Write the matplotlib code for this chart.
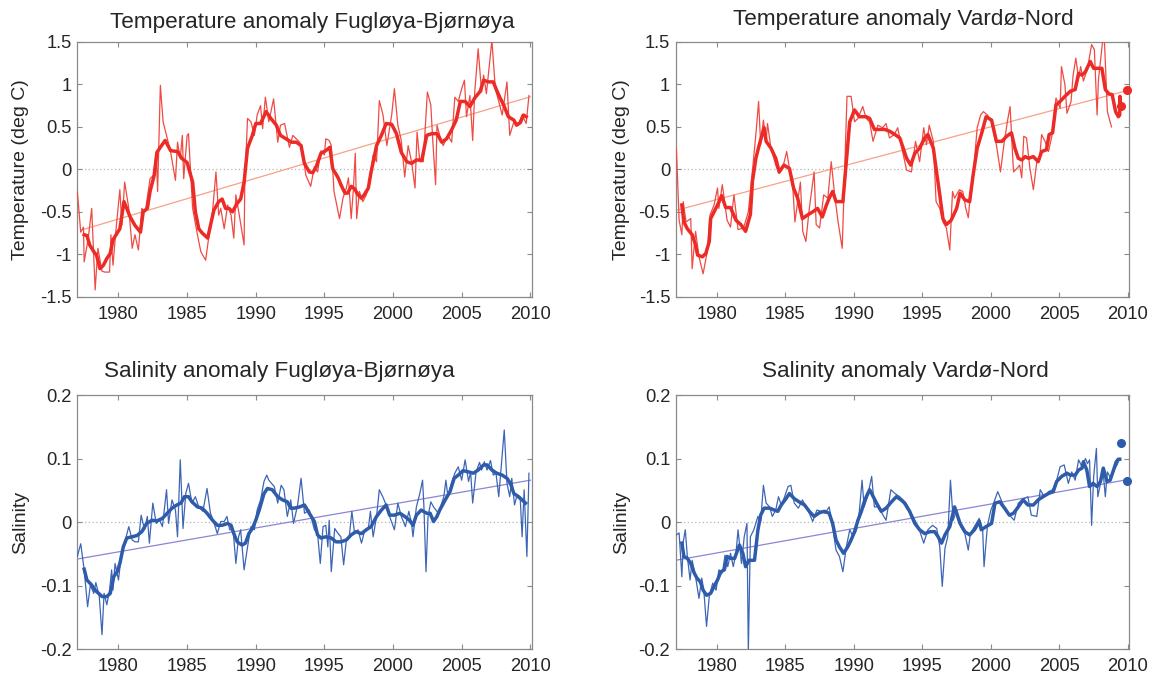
import matplotlib
matplotlib.use("Agg")
import matplotlib.pyplot as plt
import numpy as np

plt.rcParams['font.family'] = ['Liberation Sans', 'DejaVu Sans']

# ---------------- data ----------------
# Temperature anomaly Fugløya-Bjørnøya
t_fb_sm_x = [1977.5, 1977.7, 1977.9, 1978.2, 1978.4, 1978.65, 1978.9, 1979.15, 1979.4, 1979.6,
             1979.9, 1980.1, 1980.4, 1980.6, 1980.85, 1981.2, 1981.6, 1981.8, 1982.1, 1982.3,
             1982.6, 1982.8, 1983.05, 1983.4, 1983.8, 1984.3, 1984.6, 1985.0, 1985.4, 1985.6,
             1985.85, 1986.1, 1986.5, 1986.7, 1986.95, 1987.3, 1987.55, 1987.8, 1988.05, 1988.3,
             1988.65, 1988.9, 1989.15, 1989.4, 1989.75, 1990.0, 1990.35, 1990.75, 1991.1, 1991.5,
             1991.8, 1992.2, 1992.6, 1992.95, 1993.3, 1993.54, 1993.9, 1994.15, 1994.4, 1994.75,
             1995.1, 1995.4, 1995.6, 1996.0, 1996.2, 1996.5, 1996.7, 1996.95, 1997.2, 1997.45,
             1997.7, 1997.9, 1998.2, 1998.4, 1998.8, 1999.15, 1999.5, 1999.9, 2000.25, 2000.6,
             2001.0, 2001.35, 2001.7, 2002.1, 2002.45, 2002.8, 2003.2, 2003.55, 2003.9, 2004.25,
             2004.6, 2004.9, 2005.25, 2005.6, 2005.95, 2006.35, 2006.6, 2006.95, 2007.3, 2007.55,
             2007.8, 2008.05, 2008.4, 2008.8, 2009.0, 2009.27, 2009.5, 2009.7]
t_fb_sm_y = [-0.77, -0.78, -0.89, -0.97, -1.01, -1.17, -1.13, -1.05, -0.99, -0.83,
             -0.75, -0.70, -0.38, -0.46, -0.56, -0.66, -0.74, -0.50, -0.46, -0.26,
             -0.07, 0.20, 0.26, 0.34, 0.22, 0.21, 0.13, 0.08, -0.15, -0.50,
             -0.70, -0.75, -0.81, -0.66, -0.48, -0.38, -0.35, -0.46, -0.46, -0.50,
             -0.40, -0.35, -0.15, 0.25, 0.40, 0.54, 0.54, 0.68, 0.60, 0.52,
             0.40, 0.36, 0.32, 0.32, 0.28, 0.07, -0.03, -0.04, 0.03, 0.19,
             0.22, 0.26, 0.01, -0.10, -0.18, -0.28, -0.28, -0.20, -0.23, -0.30,
             -0.34, -0.30, -0.22, -0.03, 0.28, 0.40, 0.54, 0.53, 0.42, 0.20,
             0.09, 0.07, 0.11, 0.11, 0.40, 0.42, 0.42, 0.32, 0.36, 0.46,
             0.58, 0.80, 0.80, 0.74, 0.84, 0.92, 1.05, 1.03, 1.03, 0.93,
             0.84, 0.76, 0.62, 0.58, 0.52, 0.55, 0.64, 0.62]
t_fb_raw_x = [1977.0, 1977.25, 1977.45, 1977.5, 1977.8, 1978.05, 1978.3, 1978.5, 1978.8, 1979.0,
              1979.35, 1979.45, 1979.6, 1979.8, 1980.1, 1980.25, 1980.45, 1980.75, 1981.0, 1981.2,
              1981.45, 1981.7, 1981.95, 1982.3, 1982.55, 1982.75, 1982.85, 1983.05, 1983.25, 1983.5,
              1983.8, 1984.15, 1984.3, 1984.5, 1984.65, 1984.75, 1985.0, 1985.1, 1985.4, 1985.75,
              1986.0, 1986.35, 1986.6, 1986.85, 1987.1, 1987.3, 1987.45, 1987.7, 1987.95, 1988.2,
              1988.4, 1988.55, 1988.8, 1989.15, 1989.2, 1989.4, 1989.65, 1989.9, 1990.1, 1990.35,
              1990.5, 1990.7, 1990.95, 1991.3, 1991.6, 1991.8, 1992.1, 1992.45, 1992.7, 1992.95,
              1993.2, 1993.4, 1993.65, 1994.0, 1994.27, 1994.5, 1994.75, 1995.0, 1995.1, 1995.35,
              1995.5, 1995.7, 1996.1, 1996.35, 1996.6, 1996.75, 1996.95, 1997.1, 1997.25, 1997.35,
              1997.55, 1997.8, 1998.05, 1998.3, 1998.55, 1998.8, 1999.0, 1999.27, 1999.55, 1999.9,
              2000.1, 2000.35, 2000.6, 2000.85, 2001.1, 2001.35, 2001.6, 2001.75, 2001.95, 2002.2,
              2002.5, 2002.75, 2002.9, 2003.1, 2003.2, 2003.4, 2003.65, 2004.0, 2004.27, 2004.5,
              2004.75, 2005.0, 2005.2, 2005.35, 2005.6, 2005.8, 2005.95, 2006.2, 2006.45, 2006.6,
              2006.8, 2007.2, 2007.45, 2007.7, 2007.95, 2008.3, 2008.5, 2008.8, 2009.15, 2009.4,
              2009.7, 2009.9]
t_fb_raw_y = [-0.26, -0.74, -0.68, -1.09, -0.81, -0.46, -1.42, -0.93, -1.20, -1.21,
              -1.21, -0.77, -1.13, -0.74, -0.24, -0.66, -0.15, -0.46, -0.93, -0.77,
              -0.95, -0.46, -0.50, -0.11, -0.07, 0.20, -0.26, 0.99, 0.56, 0.40,
              0.20, -0.13, 0.32, 0.13, 0.40, -0.11, 0.40, 0.42, -0.46, -0.77,
              -0.97, -1.07, -0.77, -0.50, -0.03, -0.54, -0.46, -0.70, -0.42, -0.54,
              -0.81, -0.30, -0.54, -0.89, -0.18, 0.60, 0.56, 0.40, 0.64, 0.75,
              0.48, 0.85, 0.56, 0.83, 0.32, 0.52, 0.54, 0.26, 0.40, 0.36,
              0.32, 0.20, -0.07, -0.20, 0.03, -0.03, 0.22, 0.17, 0.36, 0.34,
              0.28, -0.26, -0.58, -0.34, -0.22, -0.10, -0.58, -0.26, 0.19, -0.58,
              -0.26, -0.38, -0.30, -0.15, 0.17, 0.09, 0.81, 0.64, 0.28, 0.64,
              0.95, 0.52, 0.34, -0.09, 0.28, 0.09, -0.22, 0.44, 0.09, 0.09,
              0.91, 0.76, 0.32, -0.18, 0.52, 0.40, 0.28, 0.40, 0.32, 0.85,
              0.80, 0.95, 1.05, 0.62, 0.87, 0.34, 0.91, 1.42, 0.91, 1.11,
              0.89, 1.52, 0.95, 0.80, 0.64, 1.03, 0.40, 0.56, 0.54, 0.64,
              0.54, 0.87]
t_fb_trend_x = [1977.4, 2010.0]
t_fb_trend_y = [-0.71, 0.855]

# Temperature anomaly Vardø-Nord
t_vn_sm_x = [1977.45, 1977.6, 1977.85, 1978.2, 1978.45, 1978.6, 1978.95, 1979.2, 1979.45, 1979.55,
             1979.8, 1980.05, 1980.35, 1980.65, 1981.0, 1981.4, 1981.75, 1982.1, 1982.45, 1982.6,
             1982.85, 1983.1, 1983.45, 1983.6, 1983.95, 1984.3, 1984.55, 1984.9, 1985.3, 1985.6,
             1985.9, 1986.25, 1986.6, 1987.0, 1987.35, 1987.7, 1988.0, 1988.2, 1988.45, 1988.7,
             1989.2, 1989.45, 1989.7, 1990.05, 1990.4, 1990.9, 1991.15, 1991.5, 1991.9, 1992.25,
             1992.6, 1993.0, 1993.35, 1993.6, 1993.85, 1994.15, 1994.45, 1994.8, 1995.17, 1995.4,
             1995.8, 1996.0, 1996.27, 1996.5, 1996.75, 1997.1, 1997.5, 1997.75, 1998.1, 1998.45,
             1998.7, 1999.0, 1999.3, 1999.65, 2000.05, 2000.4, 2000.8, 2001.15, 2001.5, 2001.75,
             2002.0, 2002.25, 2002.5, 2002.75, 2003.1, 2003.45, 2003.7, 2004.05, 2004.25, 2004.5,
             2004.75, 2005.05, 2005.4, 2005.8, 2006.15, 2006.4, 2006.65, 2006.9, 2007.25, 2007.5,
             2008.1, 2008.35, 2008.6, 2008.85, 2009.1, 2009.3, 2009.4, 2009.42, 2009.45]
t_vn_sm_y = [-0.42, -0.62, -0.70, -0.77, -0.89, -1.01, -1.03, -0.99, -0.85, -0.58,
             -0.50, -0.42, -0.31, -0.45, -0.45, -0.60, -0.65, -0.73, -0.53, -0.14,
             0.13, 0.29, 0.49, 0.33, 0.25, 0.13, -0.03, 0.05, 0.01, -0.22,
             -0.34, -0.58, -0.54, -0.50, -0.46, -0.56, -0.42, -0.34, -0.26, -0.38,
             -0.38, 0.09, 0.56, 0.70, 0.62, 0.62, 0.60, 0.47, 0.47, 0.47,
             0.45, 0.41, 0.37, 0.25, 0.13, 0.05, 0.19, 0.25, 0.37, 0.41,
             0.25, 0.01, -0.30, -0.58, -0.65, -0.60, -0.46, -0.28, -0.36, -0.38,
             -0.07, 0.25, 0.41, 0.62, 0.58, 0.33, 0.33, 0.39, 0.43, 0.25,
             0.13, 0.11, 0.15, 0.13, 0.15, 0.09, 0.21, 0.23, 0.41, 0.43,
             0.76, 0.80, 0.86, 0.92, 0.94, 1.13, 1.11, 1.15, 1.27, 1.19,
             1.19, 0.94, 0.89, 0.88, 0.68, 0.62, 0.64, 0.86, 0.74]
t_vn_raw_x = [1977.05, 1977.25, 1977.45, 1977.55, 1977.75, 1978.1, 1978.2, 1978.45, 1978.7, 1979.0,
              1979.3, 1979.5, 1979.8, 1980.05, 1980.15, 1980.4, 1980.75, 1981.0, 1981.25, 1981.55,
              1981.95, 1982.3, 1982.55, 1982.85, 1983.05, 1983.2, 1983.4, 1983.6, 1983.7, 1983.95,
              1984.3, 1984.55, 1984.8, 1985.1, 1985.3, 1985.55, 1985.7, 1985.9, 1986.1, 1986.27,
              1986.5, 1986.75, 1987.1, 1987.25, 1987.5, 1987.8, 1988.1, 1988.35, 1988.6, 1988.85,
              1989.15, 1989.5, 1989.8, 1990.05, 1990.3, 1990.65, 1990.9, 1991.15, 1991.4, 1991.75,
              1992.1, 1992.35, 1992.6, 1992.95, 1993.2, 1993.45, 1993.85, 1994.2, 1994.5, 1994.8,
              1995.1, 1995.3, 1995.5, 1995.8, 1996.0, 1996.27, 1996.5, 1996.75, 1997.0, 1997.2,
              1997.35, 1997.7, 1997.95, 1998.17, 1998.35, 1998.5, 1998.75, 1999.0, 1999.25, 1999.45,
              1999.75, 2000.05, 2000.4, 2000.7, 2000.95, 2001.2, 2001.4, 2001.65, 2001.9, 2002.1,
              2002.25, 2002.4, 2002.6, 2002.85, 2003.1, 2003.35, 2003.55, 2003.7, 2003.95, 2004.2,
              2004.45, 2004.75, 2005.05, 2005.15, 2005.4, 2005.55, 2005.85, 2006.0, 2006.2, 2006.4,
              2006.55, 2006.75, 2007.05, 2007.35, 2007.55, 2007.75, 2007.85, 2008.25, 2008.5, 2008.8]
t_vn_raw_y = [0.25, -0.60, -0.77, -0.38, -0.62, -0.58, -1.17, -0.73, -1.03, -1.23,
              -0.97, -0.54, -0.42, -0.22, -0.46, -0.18, -0.60, -0.68, -0.30, -0.71,
              -0.69, -0.50, -0.10, 0.41, 0.80, 0.29, 0.58, 0.33, 0.54, 0.25,
              0.05, -0.05, 0.01, 0.21, 0.01, -0.22, -0.62, -0.38, -0.15, -0.73,
              -0.85, -0.46, -0.03, -0.65, -0.69, -0.30, -0.34, 0.09, -0.30, -0.62,
              -0.93, 0.86, 0.86, 0.56, 0.60, 0.74, 0.60, 0.56, 0.33, 0.52,
              0.49, 0.54, 0.37, 0.41, 0.49, 0.29, -0.01, -0.03, 0.33, 0.09,
              0.49, 0.29, 0.52, 0.33, -0.38, -0.46, -0.62, -0.69, -0.95, -0.26,
              -0.34, -0.24, -0.26, -0.46, -0.57, -0.30, 0.01, 0.49, 0.64, 0.68,
              0.64, 0.56, 0.29, -0.03, 0.29, 0.56, 0.74, -0.03, 0.01, 0.05,
              -0.10, 0.39, 0.37, 0.01, -0.24, 0.09, 0.11, 0.41, 0.33, 0.21,
              0.39, 0.84, 0.72, 1.21, 1.00, 0.66, 0.80, 1.11, 1.31, 1.07,
              1.21, 1.04, 1.19, 1.47, 1.41, 0.64, 1.06, 1.65, 0.68, 0.50]
t_vn_trend_x = [1977.1, 2010.0]
t_vn_trend_y = [-0.48, 0.93]
t_vn_dot_x = [2009.5, 2009.9]
t_vn_dot_y = [0.75, 0.94]

# Salinity anomaly Fugløya-Bjørnøya
s_fb_sm_x = [1977.5, 1977.7, 1978.05, 1978.3, 1978.55, 1978.8, 1979.15, 1979.4, 1979.65, 1979.9,
             1980.1, 1980.35, 1980.6, 1981.0, 1981.35, 1981.7, 1982.05, 1982.45, 1982.8, 1983.2,
             1983.55, 1983.9, 1984.25, 1984.55, 1984.8, 1985.1, 1985.35, 1985.75, 1986.1, 1986.45,
             1986.85, 1987.2, 1987.55, 1987.95, 1988.2, 1988.4, 1988.65, 1989.0, 1989.25, 1989.5,
             1989.75, 1990.0, 1990.25, 1990.6, 1990.85, 1991.2, 1991.6, 1991.95, 1992.3, 1992.55,
             1992.8, 1993.2, 1993.55, 1993.9, 1994.27, 1994.5, 1994.75, 1995.1, 1995.5, 1995.85,
             1996.2, 1996.6, 1996.95, 1997.3, 1997.7, 1998.05, 1998.4, 1998.8, 1999.15, 1999.5,
             1999.75, 2000.1, 2000.5, 2000.85, 2001.2, 2001.45, 2001.7, 2002.05, 2002.45, 2002.7,
             2002.95, 2003.2, 2003.4, 2003.8, 2004.15, 2004.45, 2004.75, 2005.1, 2005.5, 2005.85,
             2006.2, 2006.6, 2006.85, 2007.2, 2007.55, 2007.95, 2008.3, 2008.55, 2008.8, 2009.15,
             2009.4, 2009.65]
s_fb_sm_y = [-0.074, -0.091, -0.099, -0.107, -0.112, -0.117, -0.117, -0.112, -0.086, -0.078,
             -0.065, -0.039, -0.025, -0.023, -0.021, -0.015, -0.002, 0.003, 0.002, 0.006,
             0.014, 0.022, 0.027, 0.030, 0.040, 0.040, 0.032, 0.024, 0.022, 0.014,
             0.003, -0.005, -0.005, -0.002, -0.005, -0.018, -0.031, -0.036, -0.033, -0.018,
             -0.010, 0.003, 0.019, 0.045, 0.053, 0.051, 0.040, 0.035, 0.032, 0.022,
             0.022, 0.024, 0.027, 0.014, 0.001, -0.020, -0.025, -0.023, -0.025, -0.031,
             -0.031, -0.028, -0.020, -0.015, -0.018, -0.012, -0.007, 0.009, 0.019, 0.027,
             0.011, 0.011, 0.014, 0.009, 0.003, -0.005, 0.011, 0.019, 0.014, 0.014,
             0.001, 0.009, 0.019, 0.035, 0.048, 0.069, 0.074, 0.081, 0.079, 0.077,
             0.082, 0.090, 0.090, 0.082, 0.077, 0.074, 0.069, 0.061, 0.045, 0.040,
             0.035, 0.030]
s_fb_raw_x = [1977.0, 1977.25, 1977.5, 1977.75, 1977.95, 1978.2, 1978.35, 1978.6, 1978.8, 1978.95,
              1979.15, 1979.35, 1979.5, 1979.6, 1979.75, 1980.0, 1980.25, 1980.5, 1980.75, 1981.0,
              1981.2, 1981.45, 1981.65, 1981.9, 1982.1, 1982.25, 1982.5, 1982.75, 1983.0, 1983.2,
              1983.5, 1983.65, 1983.9, 1984.15, 1984.3, 1984.5, 1984.7, 1984.9, 1985.1, 1985.35,
              1985.6, 1985.85, 1986.15, 1986.45, 1986.7, 1986.9, 1987.2, 1987.45, 1987.7, 1987.9,
              1988.1, 1988.35, 1988.55, 1988.75, 1988.9, 1989.15, 1989.4, 1989.65, 1989.9, 1990.1,
              1990.35, 1990.6, 1990.8, 1990.95, 1991.35, 1991.6, 1991.85, 1992.05, 1992.3, 1992.55,
              1992.75, 1993.05, 1993.3, 1993.55, 1993.9, 1994.27, 1994.5, 1994.7, 1994.9, 1995.1,
              1995.25, 1995.35, 1995.5, 1995.75, 1996.0, 1996.2, 1996.4, 1996.6, 1996.8, 1997.0,
              1997.2, 1997.45, 1997.7, 1997.95, 1998.2, 1998.35, 1998.55, 1998.8, 1999.0, 1999.25,
              1999.5, 1999.75, 2000.1, 2000.35, 2000.6, 2000.9, 2001.15, 2001.35, 2001.45, 2001.7,
              2001.95, 2002.15, 2002.25, 2002.4, 2002.55, 2002.75, 2002.95, 2003.3, 2003.55, 2003.7,
              2003.85, 2004.0, 2004.25, 2004.5, 2004.75, 2005.0, 2005.25, 2005.5, 2005.65, 2005.8,
              2006.05, 2006.3, 2006.45, 2006.65, 2006.85, 2007.1, 2007.3, 2007.5, 2007.7, 2007.85,
              2008.1, 2008.3, 2008.5, 2008.65, 2008.85, 2009.0, 2009.27, 2009.4, 2009.55, 2009.75,
              2009.9]
s_fb_raw_y = [-0.054, -0.034, -0.075, -0.133, -0.099, -0.112, -0.095, -0.117, -0.177, -0.112,
              -0.130, -0.107, -0.075, -0.107, -0.065, -0.091, -0.044, -0.028, -0.007, -0.028,
              -0.031, -0.031, 0.011, -0.012, 0.009, -0.033, 0.030, -0.002, 0.003, -0.007,
              0.051, -0.002, 0.035, 0.019, -0.023, 0.098, -0.010, 0.045, 0.061, 0.030,
              0.040, 0.024, 0.017, 0.053, 0.014, 0.003, -0.018, 0.001, 0.001, 0.009,
              -0.012, -0.012, -0.065, -0.023, -0.012, -0.075, -0.039, -0.007, -0.012, 0.019,
              0.035, 0.064, 0.074, 0.066, 0.056, 0.030, 0.058, 0.051, 0.009, 0.035,
              -0.002, 0.027, 0.069, 0.014, 0.019, -0.012, -0.018, -0.065, -0.007, -0.005,
              -0.039, 0.003, -0.078, -0.010, -0.018, -0.023, -0.067, -0.028, -0.025, 0.017,
              -0.018, -0.012, -0.033, -0.012, -0.010, 0.017, -0.023, 0.009, 0.051, 0.040,
              0.027, 0.009, -0.012, 0.030, 0.009, -0.007, 0.017, -0.002, -0.023, 0.024,
              0.045, 0.066, 0.024, -0.078, 0.009, 0.032, 0.024, 0.014, 0.030, 0.040,
              0.066, 0.040, 0.061, 0.077, 0.087, 0.066, 0.098, 0.064, 0.079, 0.030,
              0.079, 0.094, 0.082, 0.095, 0.082, 0.097, 0.074, 0.077, 0.040, 0.079,
              0.145, 0.061, 0.040, 0.069, 0.027, 0.040, 0.035, -0.023, 0.051, -0.054,
              0.077]
s_fb_trend_x = [1977.0, 2010.0]
s_fb_trend_y = [-0.058, 0.066]

# Salinity anomaly Vardø-Nord
s_vn_sm_x = [1977.45, 1977.6, 1977.85, 1978.1, 1978.35, 1978.55, 1978.8, 1979.0, 1979.25, 1979.55,
             1979.8, 1980.05, 1980.3, 1980.55, 1980.75, 1981.0, 1981.3, 1981.65, 1981.9, 1982.1,
             1982.35, 1982.75, 1983.0, 1983.2, 1983.45, 1983.85, 1984.2, 1984.45, 1984.7, 1985.05,
             1985.3, 1985.65, 1986.0, 1986.4, 1986.75, 1987.1, 1987.5, 1987.85, 1988.2, 1988.45,
             1988.7, 1988.95, 1989.25, 1989.55, 1989.8, 1990.05, 1990.3, 1990.55, 1990.8, 1991.15,
             1991.3, 1991.65, 1992.0, 1992.35, 1992.75, 1993.1, 1993.45, 1993.7, 1994.07, 1994.45,
             1994.8, 1995.17, 1995.55, 1995.9, 1996.15, 1996.4, 1996.65, 1997.0, 1997.35, 1997.75,
             1998.1, 1998.45, 1998.8, 1999.15, 1999.3, 1999.65, 2000.05, 2000.3, 2000.65, 2001.0,
             2001.35, 2001.65, 2002.0, 2002.35, 2002.7, 2003.1, 2003.45, 2003.8, 2004.2, 2004.55,
             2004.8, 2005.17, 2005.55, 2005.8, 2006.15, 2006.4, 2006.65, 2006.75, 2007.0, 2007.2,
             2007.45, 2007.75, 2008.0, 2008.2, 2008.47, 2008.7, 2008.95, 2009.15, 2009.3, 2009.4]
s_vn_sm_y = [-0.033, -0.054, -0.057, -0.065, -0.080, -0.088, -0.094, -0.107, -0.115, -0.112,
             -0.101, -0.091, -0.078, -0.075, -0.054, -0.057, -0.057, -0.036, -0.049, -0.070,
             -0.060, -0.060, -0.012, 0.011, 0.022, 0.022, 0.019, 0.017, 0.027, 0.037,
             0.045, 0.037, 0.032, 0.027, 0.017, 0.009, 0.015, 0.017, 0.014, -0.002,
             -0.028, -0.039, -0.049, -0.039, -0.028, -0.015, 0.003, 0.017, 0.035, 0.051,
             0.045, 0.030, 0.017, 0.022, 0.032, 0.040, 0.035, 0.030, 0.017, -0.002,
             -0.012, -0.018, -0.015, -0.015, -0.023, -0.033, -0.020, -0.007, 0.024, -0.002,
             -0.015, -0.020, -0.012, 0.001, -0.012, -0.007, -0.002, 0.030, 0.032, 0.022,
             0.011, 0.014, 0.024, 0.035, 0.027, 0.027, 0.035, 0.040, 0.045, 0.048,
             0.064, 0.072, 0.077, 0.074, 0.074, 0.082, 0.085, 0.095, 0.082, 0.056,
             0.061, 0.056, 0.064, 0.085, 0.064, 0.066, 0.082, 0.095, 0.099, 0.099]
s_vn_raw_x = [1977.05, 1977.25, 1977.45, 1977.55, 1977.7, 1977.85, 1978.05, 1978.2, 1978.45, 1978.7,
              1978.9, 1979.05, 1979.25, 1979.45, 1979.7, 1979.95, 1980.15, 1980.4, 1980.6, 1980.8,
              1981.0, 1981.2, 1981.4, 1981.55, 1981.8, 1982.0, 1982.2, 1982.3, 1982.45, 1982.7,
              1983.0, 1983.2, 1983.4, 1983.6, 1983.85, 1984.05, 1984.3, 1984.5, 1984.7, 1984.95,
              1985.2, 1985.4, 1985.65, 1985.95, 1986.25, 1986.65, 1987.0, 1987.3, 1987.6, 1987.9,
              1988.2, 1988.45, 1988.7, 1988.95, 1989.2, 1989.45, 1989.7, 1989.95, 1990.2, 1990.4,
              1990.6, 1990.75, 1991.0, 1991.3, 1991.5, 1991.8, 1992.05, 1992.35, 1992.7, 1993.0,
              1993.35, 1993.8, 1994.3, 1994.7, 1995.1, 1995.4, 1995.75, 1996.05, 1996.27, 1996.45,
              1996.65, 1996.85, 1997.05, 1997.25, 1997.5, 1997.8, 1998.1, 1998.35, 1998.5, 1998.8,
              1999.15, 1999.4, 1999.5, 1999.75, 2000.0, 2000.2, 2000.5, 2000.75, 2001.0, 2001.35,
              2001.7, 2002.0, 2002.4, 2002.7, 2002.95, 2003.35, 2003.6, 2003.9, 2004.2, 2004.5,
              2004.8, 2005.05, 2005.35, 2005.65, 2005.9, 2006.15, 2006.4, 2006.65, 2006.9, 2007.05,
              2007.2, 2007.35, 2007.5, 2007.7, 2007.8, 2008.0, 2008.2, 2008.35, 2008.5, 2008.75,
              2009.0, 2009.2, 2009.4]
s_vn_raw_y = [-0.020, -0.017, -0.086, -0.031, -0.012, -0.054, -0.091, -0.060, -0.086, -0.120,
              -0.088, -0.107, -0.164, -0.117, -0.096, -0.107, -0.075, -0.080, -0.052, -0.070,
              -0.049, -0.070, -0.049, -0.012, -0.065, -0.023, -0.002, -0.205, -0.023, -0.012,
              0.009, 0.001, 0.058, 0.030, 0.024, 0.009, 0.019, 0.040, 0.027, 0.040,
              0.056, 0.058, 0.030, 0.022, 0.035, 0.019, 0.001, 0.019, 0.017, 0.014,
              0.024, -0.007, -0.044, -0.054, -0.078, -0.039, -0.012, -0.023, -0.012, 0.017,
              0.066, 0.024, 0.040, 0.072, 0.024, 0.024, 0.014, 0.003, 0.051, 0.045,
              0.040, 0.030, 0.009, -0.007, -0.033, -0.012, -0.005, -0.010, -0.039, -0.101,
              -0.041, -0.023, 0.066, 0.003, 0.019, -0.007, -0.018, -0.044, -0.018, -0.007,
              0.006, -0.012, -0.070, -0.005, 0.019, 0.030, 0.048, 0.035, 0.022, 0.011,
              0.003, 0.030, 0.037, 0.040, 0.011, 0.009, 0.051, 0.040, 0.048, 0.051,
              0.066, 0.087, 0.090, 0.061, 0.079, 0.066, 0.098, 0.087, 0.100, 0.092,
              0.098, -0.005, 0.072, 0.116, 0.040, 0.061, 0.077, 0.040, 0.079, 0.069,
              0.082, 0.090, 0.100]
s_vn_trend_x = [1977.0, 2010.0]
s_vn_trend_y = [-0.060, 0.067]
s_vn_dot_x = [2009.5, 2009.9]
s_vn_dot_y = [0.124, 0.065]

years_ticks = [1980, 1985, 1990, 1995, 2000, 2005, 2010]
temp_ticks = [-1.5, -1, -0.5, 0, 0.5, 1, 1.5]
temp_labels = ["-1.5", "-1", "-0.5", "0", "0.5", "1", "1.5"]
sal_ticks = [-0.2, -0.1, 0, 0.1, 0.2]
sal_labels = ["-0.2", "-0.1", "0", "0.1", "0.2"]

# ---------------- styling ----------------
W, H = 1168, 682
RED = '#EC2A26'
RED_THIN = '#F04A44'
RED_TREND = '#F6A286'
BLUE = '#2E5BAA'
BLUE_THIN = '#3D65B6'
BLUE_TREND = '#8A86D6'
SPINE = '#8a8a8a'
TXT = '#262626'

fig = plt.figure(figsize=(W / 100, H / 100), dpi=100)


def px_axes(l, t, r, b):
    return [l / W, 1 - b / H, (r - l) / W, (b - t) / H]


def panel(rect, raw_x, raw_y, sm_x, sm_y, tr_x, tr_y, c_thick, c_thin, c_trend,
          ylim, yticks, ylabels, ylab, title, title_xy, ylab_x, dots=None):
    ax = fig.add_axes(px_axes(*rect))
    ax.axhline(0, color='#b5b5b5', lw=0.9, ls=(0, (1, 2)), zorder=1)
    ax.plot(tr_x, tr_y, color=c_trend, lw=0.9, zorder=2)
    ax.plot(raw_x, raw_y, color=c_thin, lw=0.9, zorder=3)
    ax.plot(sm_x, sm_y, color=c_thick, lw=2.5, zorder=4, solid_joinstyle='round')
    if dots is not None:
        ax.plot(dots[0], dots[1], 'o', color=c_thick, ms=5.5, zorder=5, clip_on=False)
    ax.set_xlim(1977.0, 2010.1)
    ax.set_ylim(*ylim)
    ax.set_xticks(years_ticks)
    ax.set_xticklabels([str(y) for y in years_ticks])
    ax.set_yticks(yticks)
    ax.set_yticklabels(ylabels)
    ax.tick_params(direction='in', length=3.5, width=0.8, color=SPINE,
                   top=True, right=True, labelsize=13.2, labelcolor=TXT)
    ax.tick_params(axis='x', pad=6.5)
    ax.tick_params(axis='y', pad=4)
    for s in ax.spines.values():
        s.set_color(SPINE)
        s.set_linewidth(0.9)
    cy = (rect[1] + rect[3]) / 2
    fig.text(ylab_x / W, 1 - cy / H, ylab, rotation=90, ha='center', va='center',
             fontsize=14, color=TXT)
    fig.text(title_xy[0] / W, 1 - title_xy[1] / H, title, ha='center', va='baseline',
             fontsize=16.2, color=TXT)
    return ax


panel((77.3, 42.0, 531.7, 296.7), t_fb_raw_x, t_fb_raw_y, t_fb_sm_x, t_fb_sm_y,
      t_fb_trend_x, t_fb_trend_y, RED, RED_THIN, RED_TREND, (-1.5, 1.5),
      temp_ticks, temp_labels, 'Temperature (deg C)',
      'Temperature anomaly Fugløya-Bjørnøya', (312, 28), 21)
panel((675.7, 42.0, 1129.3, 296.7), t_vn_raw_x, t_vn_raw_y, t_vn_sm_x, t_vn_sm_y,
      t_vn_trend_x, t_vn_trend_y, RED, RED_THIN, RED_TREND, (-1.5, 1.5),
      temp_ticks, temp_labels, 'Temperature (deg C)',
      'Temperature anomaly Vardø-Nord', (903, 25), 622, dots=(t_vn_dot_x, t_vn_dot_y))
panel((77.3, 395.0, 531.7, 649.3), s_fb_raw_x, s_fb_raw_y, s_fb_sm_x, s_fb_sm_y,
      s_fb_trend_x, s_fb_trend_y, BLUE, BLUE_THIN, BLUE_TREND, (-0.2, 0.2),
      sal_ticks, sal_labels, 'Salinity',
      'Salinity anomaly Fugløya-Bjørnøya', (279, 377), 21)
panel((675.7, 395.0, 1129.3, 649.3), s_vn_raw_x, s_vn_raw_y, s_vn_sm_x, s_vn_sm_y,
      s_vn_trend_x, s_vn_trend_y, BLUE, BLUE_THIN, BLUE_TREND, (-0.2, 0.2),
      sal_ticks, sal_labels, 'Salinity',
      'Salinity anomaly Vardø-Nord', (905, 377), 622, dots=(s_vn_dot_x, s_vn_dot_y))

fig.savefig('out.png', dpi=100, facecolor='white')
